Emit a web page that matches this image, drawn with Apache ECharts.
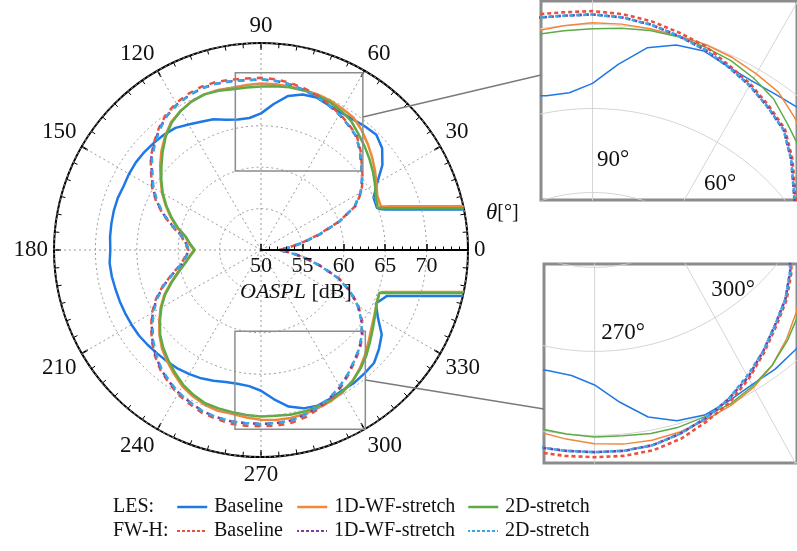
<!DOCTYPE html>
<html><head><meta charset="utf-8">
<script src="https://cdn.jsdelivr.net/npm/echarts@6/dist/echarts.min.js"></script>
<style>html,body{margin:0;padding:0;background:#fff}#c{width:797px;height:551px}</style>
</head><body><div id="c"></div>
<script>
// ---------- data (OASPL in dB vs. polar angle theta in degrees) ----------
const ANG_LES = [0,5,10,11,12,13,14,15,16,17,18,19,20,
  25,30,35,40,45,50,55,60,65,70,75,80,85,90,
  95,100,105,110,115,120,125,130,135,140,145,150,155,160,165,170,175,180,
  185,190,195,200,205,210,215,220,225,230,235,240,245,250,255,260,265,270,
  275,280,285,290,295,300,305,310,315,320,325,330,335,340,
  341,342,343,344,345,346,347,348,349,350,355,360];
const LES_BASELINE = [90,85,78.2,75.6,73.5,71.8,70.2,68.9,67.8,66.7,65.8,65.2,64.9,
  65.0,66.2,67.9,69.1,69.7,69.5,69.3,69.2,69.3,69.6,69.45,68.9,67.7,66.5,
  66.0,66.0,66.3,66.8,67.1,67.5,68.0,68.2,68.3,68.4,68.45,68.4,68.3,68.4,68.4,68.35,68.3,68.2,
  68.35,68.3,68.2,68.15,68.1,68.05,68.0,67.85,67.7,67.6,67.5,67.3,67.1,66.8,66.5,66.4,66.5,67.0,
  68.1,69.2,69.8,70.0,69.8,69.6,69.6,69.45,69.3,68.6,67.8,66.3,65.3,66.2,
  67.1,68.0,69.0,70.2,71.5,73.0,74.7,76.7,79.1,82.0,86,90];
const LES_1D = [90,85,80.5,77.8,75.5,73.5,71.9,70.4,69.2,68.1,67.1,66.2,65.4,
  65.5,66.1,66.8,67.5,68.2,68.9,69.5,69.7,69.9,70.0,70.0,70.05,70.1,70.1,
  70.0,69.9,70.0,70.0,69.8,69.4,68.9,68.0,67.0,65.9,64.8,63.8,62.7,61.6,60.5,59.3,58.7,58.1,
  58.7,59.4,60.4,61.6,62.9,64.0,65.0,66.0,66.9,67.6,68.3,69.0,69.5,69.9,70.1,70.1,70.3,70.5,
  70.6,70.6,70.5,70.3,70.1,69.8,69.3,68.6,67.8,67.0,66.3,65.8,65.4,65.2,
  65.6,66.4,67.3,68.4,69.6,71.0,72.5,74.4,76.6,79.2,85,90];
const LES_2D = [90,85,79.0,76.4,74.2,72.4,70.8,69.5,68.3,67.2,66.3,65.5,65.0,
  65.3,65.9,66.5,67.1,67.7,68.3,69.0,69.4,69.7,69.85,69.95,69.95,69.85,69.75,
  69.7,69.7,69.9,70.0,69.8,69.4,68.8,67.9,66.8,65.7,64.7,63.7,62.6,61.5,60.4,59.2,58.6,58.0,
  58.6,59.3,60.3,61.5,62.8,63.9,64.9,65.9,66.7,67.4,68.1,68.8,69.3,69.7,69.8,69.9,70.0,70.1,
  70.1,70.2,70.2,70.1,70.0,69.7,69.3,68.7,68.0,67.2,66.5,65.9,65.4,65.2,
  65.95,66.8,67.8,68.8,70.1,71.5,73.1,75.0,77.2,79.9,85,90];

const ANG_FWH = [0,5,10,15,20,25,30,35,40,45,50,55,60,65,70,75,80,85,90,
  95,100,105,110,115,120,125,130,135,140,145,150,155,160,165,170,175,180,
  185,190,195,200,205,210,215,220,225,230,235,240,245,250,255,260,265,270,
  275,280,285,290,295,300,305,310,315,320,325,330,335,340,345,350,355,360];
const FWH_BASELINE = [52.2,53.3,55.0,57.2,60.0,62.6,64.0,65.0,65.9,67.0,68.0,68.5,69.0,69.4,69.9,70.2,70.5,70.7,70.8,
  70.8,70.9,71.0,71.0,70.8,70.5,70.0,69.2,68.3,67.4,66.2,65.2,64.0,62.6,61.1,59.8,59.2,58.8,
  59.2,59.8,61.1,62.6,64.0,65.2,66.2,67.2,68.1,68.9,69.5,70.1,70.5,70.9,71.1,71.3,71.3,71.3,
  71.3,71.2,70.9,70.4,69.9,69.2,68.4,67.6,66.9,66.0,64.9,63.6,62.0,60.0,57.4,55.2,53.5,52.2];
const FWH_1D = [52.0,53.4,55.2,57.4,60.1,62.5,63.9,64.9,65.8,66.9,67.9,68.4,68.9,69.3,69.7,70.0,70.3,70.5,70.6,
  70.6,70.7,70.8,70.8,70.6,70.3,69.8,69.1,68.2,67.3,66.1,65.1,63.9,62.5,61.0,59.7,59.1,58.7,
  59.1,59.7,61.0,62.5,63.9,65.1,66.1,67.1,68.0,68.8,69.4,69.9,70.3,70.7,70.9,71.0,71.0,71.0,
  71.0,70.9,70.6,70.2,69.7,69.1,68.3,67.5,66.8,65.9,64.8,63.5,61.9,59.9,57.5,55.4,53.6,52.0];
const FWH_2D = [52.1,53.4,55.1,57.3,60.1,62.5,63.9,64.9,65.8,66.9,67.9,68.4,68.9,69.3,69.7,70.0,70.3,70.5,70.6,
  70.6,70.7,70.8,70.8,70.6,70.3,69.8,69.0,68.1,67.2,66.0,65.0,63.8,62.5,61.0,59.7,59.1,58.7,
  59.1,59.7,61.0,62.5,63.8,65.0,66.0,67.0,67.9,68.7,69.3,69.9,70.3,70.7,70.9,71.0,71.0,71.0,
  71.0,70.9,70.6,70.2,69.7,69.0,68.3,67.5,66.8,65.9,64.8,63.5,61.9,59.9,57.4,55.3,53.5,52.1];

const RADIUS_TICKS = [50, 55, 60, 65, 70, 75];
const INSET_LABELS_1 = ['90°', '60°'];
const INSET_LABELS_2 = ['270°', '300°'];

// ---------- layout / style ----------
const SERIF = '"Liberation Serif","DejaVu Serif",serif';
const CX = 261, CY = 250, R = 207;
const RMIN = RADIUS_TICKS[0], RMAX = RADIUS_TICKS[RADIUS_TICKS.length - 1];
const PX_MAIN = R / (RMAX - RMIN);
const PX_IN = 16.8;
const INSETS = [
  {x: [-3.1, 12.3], y: [9.55, 21.4], left: 541, top: 1},
  {x: [-3.15, 12.6], y: [-21.65, -9.8], left: 544, top: 264}
];

const SERIES = [
  {name: 'LES Baseline', label: 'Baseline', ang: ANG_LES, val: LES_BASELINE, color: '#1e78e6', dash: false},
  {name: 'LES 1D-WF-stretch', label: '1D-WF-stretch', ang: ANG_LES, val: LES_1D, color: '#f0883c', dash: false},
  {name: 'LES 2D-stretch', label: '2D-stretch', ang: ANG_LES, val: LES_2D, color: '#5cab45', dash: false},
  {name: 'FW-H Baseline', label: 'Baseline', ang: ANG_FWH, val: FWH_BASELINE, color: '#e8513d', dash: true, off: 0},
  {name: 'FW-H 1D-WF-stretch', label: '1D-WF-stretch', ang: ANG_FWH, val: FWH_1D, color: '#7a3ea6', dash: true, off: 6},
  {name: 'FW-H 2D-stretch', label: '2D-stretch', ang: ANG_FWH, val: FWH_2D, color: '#35a7e6', dash: true, off: 6}
];

const series = [];
SERIES.forEach((s, idx) => {
  series.push({
    type: 'line', name: s.name, coordinateSystem: 'polar', polarIndex: 0,
    data: s.val.map((v, i) => [v, s.ang[i]]),
    symbol: 'none', clip: true, silent: true, z: 3 + idx * 0.1 + (s.dash ? 1 : 0),
    itemStyle: {color: s.color},
    lineStyle: {color: s.color, width: 2.5, type: s.dash ? [6, 6] : 'solid', dashOffset: s.off || 0}
  });
});

const toXY = (v, a) => { const t = a * Math.PI / 180; return [(v - RMIN) * Math.cos(t), (v - RMIN) * Math.sin(t)]; };

INSETS.forEach((ins, k) => {
  // reference circles and spokes of the polar grid, inside the zoom views
  RADIUS_TICKS.slice(1).forEach(rv => {
    const pts = [];
    for (let a = 0; a <= 360; a += 1) pts.push(toXY(rv, a));
    series.push({type: 'line', xAxisIndex: k, yAxisIndex: k, data: pts, symbol: 'none', silent: true, z: 1,
      lineStyle: {color: '#d4d4d4', width: 1}});
  });
  for (let a = 0; a < 360; a += 30) {
    series.push({type: 'line', xAxisIndex: k, yAxisIndex: k, data: [toXY(RMIN, a), toXY(RMAX + 10, a)],
      symbol: 'none', silent: true, z: 1, lineStyle: {color: '#d4d4d4', width: 1}});
  }
  SERIES.forEach((s, idx) => {
    series.push({
      type: 'line', name: s.name + ' (zoom ' + (k + 1) + ')', xAxisIndex: k, yAxisIndex: k,
      data: s.val.map((v, i) => toXY(v, s.ang[i])),
      symbol: 'none', silent: true, z: 3 + idx * 0.1 + (s.dash ? 1 : 0),
      itemStyle: {color: s.color},
      lineStyle: {color: s.color, width: s.dash ? 2.6 : 1.5, type: s.dash ? [4, 3] : 'solid', dashOffset: s.dash ? (s.off ? 3.5 : 0) : 0}
    });
  });
});

// legend: one component per entry so that the two rows line up as in the figure
const LEG_X = [176, 296, 467];
const legends = SERIES.map((s, i) => ({
  data: [s.name], left: LEG_X[i % 3], top: i < 3 ? 497 : 521,
  itemWidth: 30, itemHeight: 20, padding: 0, selectedMode: false,
  formatter: () => s.label,
  textStyle: {fontFamily: SERIF, fontSize: 20, color: '#111', padding: [0, 0, 0, 2]},
  itemStyle: {opacity: 0},
  lineStyle: s.dash ? {type: [3, 2], width: 2} : {width: 2.5}
}));

const boxes = INSETS.map(ins => ({
  type: 'rect', z: 50,
  shape: {x: CX + ins.x[0] * PX_MAIN, y: CY - ins.y[1] * PX_MAIN,
          width: (ins.x[1] - ins.x[0]) * PX_MAIN, height: (ins.y[1] - ins.y[0]) * PX_MAIN},
  style: {fill: 'none', stroke: '#8c8c8c', lineWidth: 1.5}
}));

const labelStyle = (txt) => ({text: txt, fontFamily: SERIF, fontSize: 23, fill: '#111', align: 'center', verticalAlign: 'middle'});

const option = {
  animation: false,
  backgroundColor: '#fff',
  polar: {center: [CX, CY], radius: [0, R]},
  angleAxis: {
    type: 'value', min: 0, max: 360, interval: 30, startAngle: 0, clockwise: false,
    axisLine: {lineStyle: {color: '#000', width: 2}},
    axisTick: {show: true, inside: true, length: 7, lineStyle: {color: '#000', width: 1.5}},
    minorTick: {show: true, splitNumber: 6, length: 4.5, lineStyle: {color: '#000', width: 1}},
    axisLabel: {fontFamily: SERIF, fontSize: 23, color: '#111', margin: 6},
    splitLine: {show: true, lineStyle: {color: '#9a9a9a', width: 1, type: [2, 3]}}
  },
  radiusAxis: {
    type: 'value', min: RMIN, max: RMAX, interval: 5,
    axisLine: {lineStyle: {color: '#000', width: 2}},
    axisTick: {show: true, length: 6, lineStyle: {color: '#000', width: 1.5}},
    minorTick: {show: true, splitNumber: 5, length: 3.5, lineStyle: {color: '#000', width: 1}},
    axisLabel: {fontFamily: SERIF, fontSize: 22, color: '#111', showMaxLabel: false, margin: -5, verticalAlign: 'top', align: 'center'},
    splitLine: {show: true, lineStyle: {color: '#9a9a9a', width: 1, type: [2, 3]}},
    z: 10
  },
  grid: INSETS.map(ins => ({
    left: ins.left, top: ins.top,
    width: (ins.x[1] - ins.x[0]) * PX_IN, height: (ins.y[1] - ins.y[0]) * PX_IN,
    show: true, borderColor: '#8c8c8c', borderWidth: 3, backgroundColor: '#fff'
  })),
  xAxis: INSETS.map((ins, k) => ({type: 'value', gridIndex: k, min: ins.x[0], max: ins.x[1], show: false})),
  yAxis: INSETS.map((ins, k) => ({type: 'value', gridIndex: k, min: ins.y[0], max: ins.y[1], show: false})),
  legend: legends,
  series: series,
  graphic: boxes.concat([
    {type: 'line', z: 50, shape: {x1: CX + INSETS[0].x[1] * PX_MAIN, y1: 117, x2: INSETS[0].left, y2: 75}, style: {stroke: '#7a7a7a', lineWidth: 1.3}},
    {type: 'line', z: 50, shape: {x1: CX + INSETS[1].x[1] * PX_MAIN, y1: 380, x2: INSETS[1].left, y2: 409}, style: {stroke: '#7a7a7a', lineWidth: 1.3}},
    {type: 'text', z: 60, x: 240, y: 292, style: {text: '{i|OASPL} [dB]', fontFamily: SERIF, fontSize: 22, fill: '#111', verticalAlign: 'middle',
      rich: {i: {fontStyle: 'italic', fontFamily: SERIF, fontSize: 22, fill: '#111'}}}},
    {type: 'text', z: 60, x: 486, y: 213, style: {text: '{i|θ}[°]', fontFamily: SERIF, fontSize: 20, fill: '#111', verticalAlign: 'middle',
      rich: {i: {fontStyle: 'italic', fontFamily: SERIF, fontSize: 23, fill: '#111'}}}},
    {type: 'text', z: 60, x: 113, y: 507, style: {text: 'LES:', fontFamily: SERIF, fontSize: 20, fill: '#111', verticalAlign: 'middle'}},
    {type: 'text', z: 60, x: 113, y: 531, style: {text: 'FW-H:', fontFamily: SERIF, fontSize: 20, fill: '#111', verticalAlign: 'middle'}},
    {type: 'text', z: 60, x: 613, y: 160, style: labelStyle(INSET_LABELS_1[0])},
    {type: 'text', z: 60, x: 720, y: 184, style: labelStyle(INSET_LABELS_1[1])},
    {type: 'text', z: 60, x: 623, y: 333, style: labelStyle(INSET_LABELS_2[0])},
    {type: 'text', z: 60, x: 733, y: 290, style: labelStyle(INSET_LABELS_2[1])}
  ])
};

const chart = echarts.init(document.getElementById('c'));
chart.setOption(option);
</script>
</body></html>
